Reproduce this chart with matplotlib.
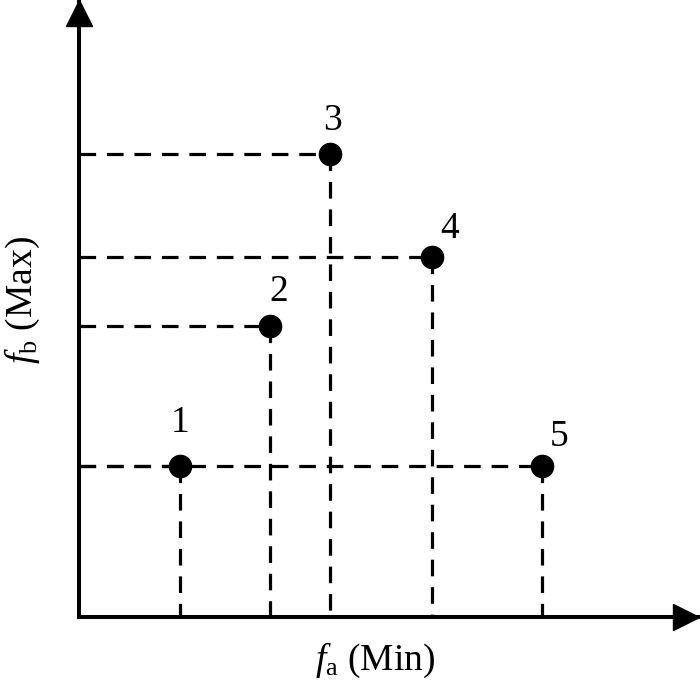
import matplotlib.pyplot as plt

# 폰트: Times 계열 대신 Liberation Serif
plt.rcParams['font.family'] = ['Liberation Serif', 'DejaVu Serif']
plt.rcParams['mathtext.fontset'] = 'custom'
plt.rcParams['mathtext.rm'] = 'Liberation Serif'
plt.rcParams['mathtext.it'] = 'Liberation Serif:italic'

# 데이터
point_labels = ['1', '2', '3', '4', '5']
fa_values = [1.01, 1.91, 2.51, 3.53, 4.63]
fb_values = [1.51, 2.91, 4.63, 3.60, 1.51]

# 번호 라벨 위치 (points 단위 offset)
label_offsets = [(0, 31), (6, 25), (2, 24), (13, 20), (12, 21)]

fig = plt.figure(figsize=(7, 6.85), dpi=100)
ax = fig.add_axes([79 / 700, 68 / 685, 620 / 700, 617 / 685])
ax.set_xlim(0, 6.2)
ax.set_ylim(0, 6.17)

# 점선 (가로: y축 -> 점, 세로: 점 -> x축)
dash = (0, (5.2, 3.4))
for x, y in zip(fa_values, fb_values):
    ax.plot([0, x], [y, y], color='black', lw=2.3, linestyle=dash)
    ax.plot([x, x], [y, 0], color='black', lw=2.3, linestyle=dash)

# 점
ax.plot(fa_values, fb_values, 'o', color='black', markersize=16, zorder=5)

# 번호
for lab, x, y, off in zip(point_labels, fa_values, fb_values, label_offsets):
    ax.annotate(lab, (x, y), xytext=off, textcoords='offset points',
                ha='center', va='center', fontsize=27)

# 축 + 화살표
for s in ['top', 'right']:
    ax.spines[s].set_visible(False)
ax.spines['left'].set_linewidth(2.9)
ax.spines['bottom'].set_linewidth(2.9)
ax.set_xticks([])
ax.set_yticks([])
ax.plot([6.2 - 0.13], [0], marker='>', color='black', markersize=19, clip_on=False, zorder=6)
ax.plot([0], [6.17 - 0.13], marker='^', color='black', markersize=19, clip_on=False, zorder=6)

# 축 라벨
ax.text(2.96, -0.43, r'$\mathit{f}_{\mathrm{a}}$ (Min)', ha='center', va='center',
        fontsize=27, clip_on=False)
ax.text(-0.57, 3.17, r'$\mathit{f}_{\mathrm{b}}$ (Max)', ha='center', va='center',
        fontsize=27, rotation=90, clip_on=False)

plt.savefig('out.png', dpi=100)
